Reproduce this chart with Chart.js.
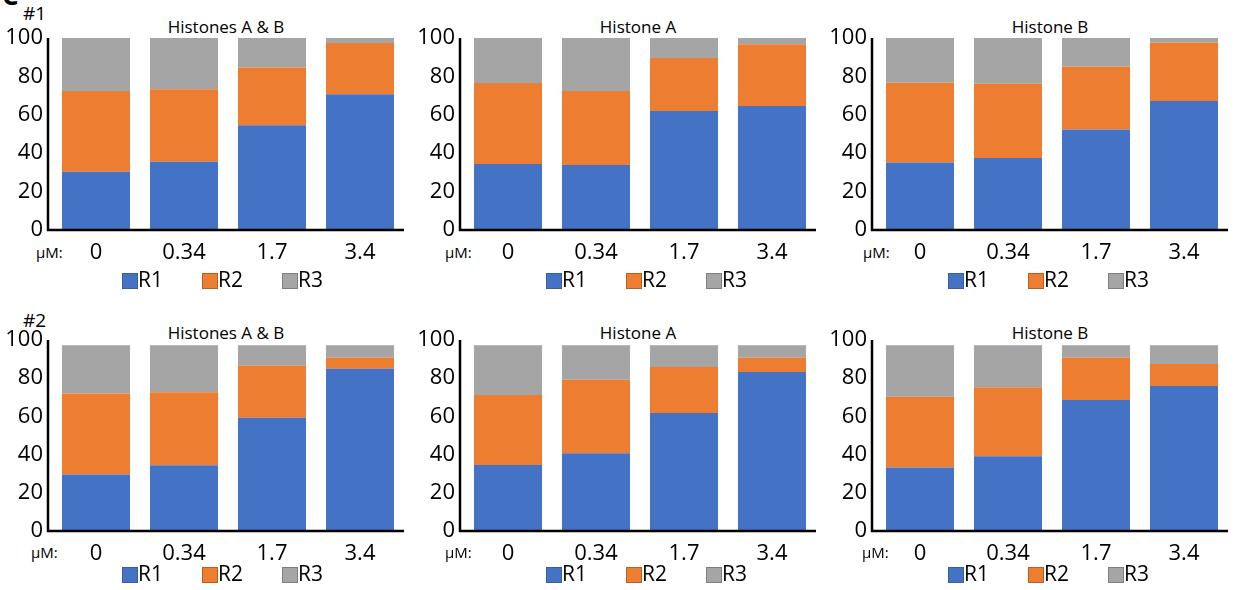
<!DOCTYPE html>
<html>
<head>
<meta charset="utf-8">
<script src="https://cdn.jsdelivr.net/npm/chart.js@4.4.0/dist/chart.umd.min.js"></script>
<style>
  body { margin: 0; background: #fff; font-family: 'Open Sans', sans-serif; color: #000; }
  #stage { position: relative; width: 1239px; height: 590px; overflow: hidden; }
  .abs { position: absolute; line-height: 1; white-space: nowrap; }
  .chartbox { position: absolute; }
  .title { font-size: 17px; text-align: center; }
  .rep { font-size: 19px; }
  .unit { font-size: 15px; }
  .leg-item { position: absolute; line-height: 1; font-size: 21px; white-space: nowrap; }
  .leg-box { position: absolute; width: 14px; height: 14px; border: 1px solid; }
  .leg-text { position: absolute; left: 16px; }
</style>
</head>
<body>
<div id="stage"></div>
<script>
document.addEventListener('DOMContentLoaded', () => {
    const categories = ['0', '0.34', '1.7', '3.4'];
    const seriesNames = ['R1', 'R2', 'R3'];
    const seriesColors = ['#4472C4', '#ED7D31', '#A5A5A5'];
    const boxBorders = ['#3A5F9E', '#B8611F', '#7F7F7F'];
    const yTicks = [0, 20, 40, 60, 80, 100];
    const panelTitles = ['Histones A & B', 'Histone A', 'Histone B'];
    const rowLabels = ['#1', '#2'];

    // replicate #1
    const rep1AB_R1 = [30.4, 35.6, 54.5, 70.7];
    const rep1AB_R2 = [42.0, 37.7, 30.2, 26.7];
    const rep1AB_R3 = [27.6, 26.7, 15.3, 2.6];
    const rep1A_R1 = [34.4, 33.9, 62.0, 64.6];
    const rep1A_R2 = [42.2, 38.5, 27.6, 32.1];
    const rep1A_R3 = [23.4, 27.6, 10.4, 3.3];
    const rep1B_R1 = [35.2, 37.5, 52.4, 67.2];
    const rep1B_R2 = [41.5, 38.7, 32.7, 30.4];
    const rep1B_R3 = [23.3, 23.8, 14.9, 2.4];

    // replicate #2
    const rep2AB_R1 = [29.6, 34.4, 59.3, 84.9];
    const rep2AB_R2 = [42.4, 38.3, 27.4, 5.8];
    const rep2AB_R3 = [25.2, 24.5, 10.5, 6.5];
    const rep2A_R1 = [34.6, 40.7, 61.8, 83.2];
    const rep2A_R2 = [36.6, 38.5, 24.1, 7.5];
    const rep2A_R3 = [26.0, 18.0, 11.3, 6.5];
    const rep2B_R1 = [33.3, 39.1, 68.6, 75.9];
    const rep2B_R2 = [37.0, 36.1, 22.1, 11.5];
    const rep2B_R3 = [26.9, 22.0, 6.5, 9.8];

    const rows = [
        [[rep1AB_R1, rep1AB_R2, rep1AB_R3], [rep1A_R1, rep1A_R2, rep1A_R3], [rep1B_R1, rep1B_R2, rep1B_R3]],
        [[rep2AB_R1, rep2AB_R2, rep2AB_R3], [rep2A_R1, rep2A_R2, rep2A_R3], [rep2B_R1, rep2B_R2, rep2B_R3]]
    ];

    Chart.defaults.font.family = "'Open Sans', sans-serif";
    Chart.defaults.color = '#000';

    const stage = document.getElementById('stage');

    // layout per row / column (axisX = where the black y axis line sits)
    const axisX = [48, 460, 872];
    const axisGap = 4;          // bars start a little right of the axis line
    const plotW = 352;
    const rowLayout = [
        { axisTop: 38, plotH: 192, titleTop: 18, repTop: 4, unitTop: 245, legTop: 273, unitX: [36, 445, 863] },
        { axisTop: 340, plotH: 191, titleTop: 324, repTop: 311, unitTop: 545, legTop: 567, unitX: [31, 445, 862] }
    ];
    const legendX = [122, 546, 948];
    const yW = 48 + axisGap, padTop = 16, padR = 6, xH = 40;

    // black L-shaped axes, drawn slightly left of the category area
    const axisLines = {
        id: 'axisLines',
        afterDraw(chart) {
            const { ctx, chartArea: a } = chart;
            const x0 = a.left - axisGap;
            ctx.save();
            ctx.strokeStyle = '#000';
            ctx.lineWidth = 2.5;
            ctx.beginPath();
            ctx.moveTo(x0, a.top);
            ctx.lineTo(x0, a.bottom);
            ctx.lineTo(a.right, a.bottom);
            ctx.stroke();
            ctx.restore();
        }
    };

    function addText(cls, text, left, top, width) {
        const el = document.createElement('div');
        el.className = 'abs ' + cls;
        el.textContent = text;
        el.style.left = left + 'px';
        el.style.top = top + 'px';
        if (width) el.style.width = width + 'px';
        stage.appendChild(el);
        return el;
    }

    // cut-off panel letter in the corner
    const corner = addText('', 'C', 2, -18);
    corner.style.fontSize = '26px';
    corner.style.fontWeight = 'bold';

    rows.forEach((row, r) => {
        const L = rowLayout[r];
        addText('rep', rowLabels[r], 23, L.repTop);

        row.forEach((series, c) => {
            addText('title', panelTitles[c], axisX[c], L.titleTop, plotW + axisGap);
            addText('unit', 'µM:', L.unitX[c], L.unitTop);

            const box = document.createElement('div');
            box.className = 'chartbox';
            const w = yW + plotW + padR;
            const h = padTop + L.plotH + xH;
            box.style.left = (axisX[c] + axisGap - yW) + 'px';
            box.style.top = (L.axisTop - padTop) + 'px';
            const canvas = document.createElement('canvas');
            canvas.width = w;
            canvas.height = h;
            box.appendChild(canvas);
            stage.appendChild(box);

            new Chart(canvas.getContext('2d'), {
                type: 'bar',
                data: {
                    labels: categories,
                    datasets: seriesNames.map((name, i) => ({
                        label: name,
                        data: series[i],
                        backgroundColor: seriesColors[i],
                        borderWidth: 0,
                        categoryPercentage: 1,
                        barPercentage: 0.773
                    }))
                },
                options: {
                    responsive: false,
                    animation: false,
                    layout: { padding: { top: padTop, right: padR, left: 0, bottom: 0 } },
                    plugins: { legend: { display: false }, tooltip: { enabled: false } },
                    scales: {
                        x: {
                            stacked: true,
                            grid: { display: false, drawTicks: false },
                            border: { display: false },
                            ticks: { font: { size: 22 }, padding: 10, maxRotation: 0 },
                            afterFit: s => {
                                s.height = xH;
                                s.paddingLeft = 0;
                                s.paddingRight = 0;
                            }
                        },
                        y: {
                            stacked: true,
                            min: 0,
                            max: 100,
                            grid: { display: false, drawTicks: false },
                            border: { display: false },
                            ticks: { font: { size: 22 }, padding: 9 },
                            afterBuildTicks: s => { s.ticks = yTicks.map(v => ({ value: v })); },
                            afterFit: s => {
                                s.width = yW;
                                s.paddingTop = 0;
                                s.paddingBottom = 0;
                            }
                        }
                    }
                },
                plugins: [axisLines]
            });

            // legend
            seriesNames.forEach((name, i) => {
                const item = document.createElement('div');
                item.className = 'leg-item';
                item.style.left = (legendX[c] + i * 80) + 'px';
                item.style.top = L.legTop + 'px';
                item.innerHTML = `<div class="leg-box" style="background:${seriesColors[i]};border-color:${boxBorders[i]}"></div>` +
                    `<div class="leg-text" style="top:-4px">${name}</div>`;
                stage.appendChild(item);
            });
        });
    });
});
</script>
</body>
</html>
